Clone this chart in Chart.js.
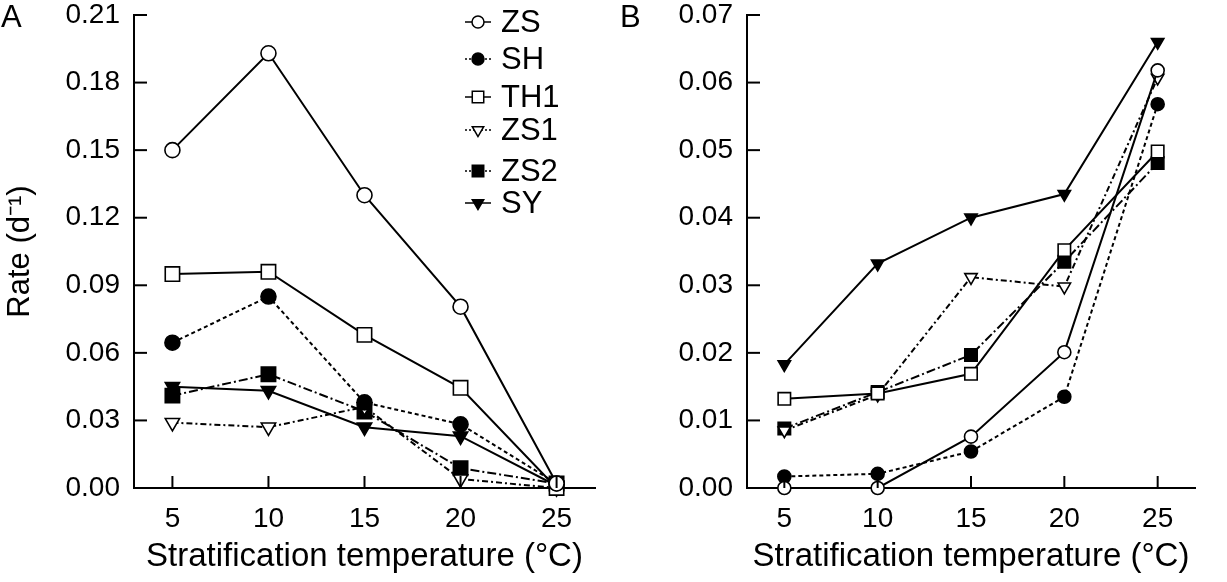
<!DOCTYPE html>
<html>
<head>
<meta charset="utf-8">
<script src="https://cdn.jsdelivr.net/npm/chart.js@4.4.0/dist/chart.umd.min.js"></script>
<style>
  body { margin: 0; background: #fff; }
  #wrap { position: relative; width: 1227px; height: 582px; }
  .panel { position: absolute; top: 0; height: 582px; }
  .tag { position: absolute; top: -1px; font: 31px "Liberation Sans", Arial, sans-serif; color: #000; }
</style>
</head>
<body>
<div id="wrap">
  <div class="panel" style="left:0;width:612px"><canvas id="chartA"></canvas></div>
  <div class="panel" style="left:612px;width:615px"><canvas id="chartB"></canvas></div>
  <div class="tag" style="left:1px">A</div>
  <div class="tag" style="left:620px">B</div>
</div>
<script>
// Data
const temps = [5, 10, 15, 20, 25];
const seriesNames = ['ZS', 'SH', 'TH1', 'ZS1', 'ZS2', 'SY'];

const aZS  = [0.150, 0.193, 0.130, 0.0805, 0.002];
const aSH  = [0.0645, 0.085, 0.038, 0.0283, 0.002];
const aTH1 = [0.095, 0.096, 0.068, 0.0445, 0.0];
const aZS1 = [0.029, 0.027, 0.036, 0.004, 0.0];
const aZS2 = [0.041, 0.0505, 0.034, 0.0088, 0.002];
const aSY  = [0.045, 0.0432, 0.027, 0.023, 0.001];

const bZS  = [0.0, 0.0, 0.0076, 0.0201, 0.0618];
const bSH  = [0.0017, 0.0021, 0.0054, 0.0135, 0.0568];
const bTH1 = [0.0132, 0.014, 0.0169, 0.0352, 0.0498];
const bZS1 = [0.0085, 0.0138, 0.0312, 0.0298, 0.0607];
const bZS2 = [0.0088, 0.0142, 0.0197, 0.0335, 0.0481];
const bSY  = [0.0183, 0.0332, 0.0400, 0.0435, 0.066];

const yTicksA = [0, 0.03, 0.06, 0.09, 0.12, 0.15, 0.18, 0.21];
const yTicksB = [0, 0.01, 0.02, 0.03, 0.04, 0.05, 0.06, 0.07];

const FONT = '"Liberation Sans", Arial, sans-serif';

// marker / line style per series
const styles = {
  ZS:  { pointStyle: 'circle',   fill: '#fff', dash: [],           rot: 0,   k: 1 },
  SH:  { pointStyle: 'circle',   fill: '#000', dash: [4, 3],       rot: 0,   k: 1 },
  TH1: { pointStyle: 'rect',     fill: '#fff', dash: [],           rot: 0,   k: 1.35 },
  ZS1: { pointStyle: 'triangle', fill: '#fff', dash: [6, 3, 2, 3], rot: 180, k: 1.1 },
  ZS2: { pointStyle: 'rect',     fill: '#000', dash: [9, 3, 2, 3], rot: 0,   k: 1.35 },
  SY:  { pointStyle: 'triangle', fill: '#000', dash: [],           rot: 180, k: 1.1 }
};

function makeDatasets(values, radius) {
  return seriesNames.map((name, i) => {
    const s = styles[name];
    return {
      label: name,
      data: temps.map((t, j) => ({ x: t, y: values[i][j] })),
      borderColor: '#000',
      borderWidth: 2,
      borderDash: s.dash,
      backgroundColor: s.fill,
      pointStyle: s.pointStyle,
      pointRotation: s.rot,
      pointRadius: radius * s.k,
      pointBorderWidth: 1.6,
      pointBorderColor: '#000',
      pointBackgroundColor: s.fill,
      clip: false,
      tension: 0
    };
  });
}

// ticks pointing into the plot area
const innerTicks = {
  id: 'innerTicks',
  afterDraw(chart) {
    const c = chart.ctx;
    const area = chart.chartArea;
    c.save();
    c.strokeStyle = '#000';
    c.lineWidth = 2;
    chart.scales.y.ticks.forEach(t => {
      const y = chart.scales.y.getPixelForValue(t.value);
      c.beginPath(); c.moveTo(area.left, y); c.lineTo(area.left + 13, y); c.stroke();
    });
    chart.scales.x.ticks.forEach(t => {
      const x = chart.scales.x.getPixelForValue(t.value);
      c.beginPath(); c.moveTo(x, area.bottom); c.lineTo(x, area.bottom - 12); c.stroke();
    });
    c.restore();
  }
};

// legend drawn inside panel A
const insideLegend = {
  id: 'insideLegend',
  afterDatasetsDraw(chart, args, opts) {
    if (!opts.show) return;
    const c = chart.ctx;
    const rows = [22, 59, 97, 130, 171, 203];
    c.save();
    chart.data.datasets.forEach((ds, i) => {
      const y = rows[i];
      const cx = opts.x;
      c.strokeStyle = '#000';
      c.lineWidth = 1.5;
      c.setLineDash(ds.borderDash.length ? [2, 2] : []);
      c.beginPath(); c.moveTo(cx - 13, y); c.lineTo(cx + 13, y); c.stroke();
      c.setLineDash([]);
      c.fillStyle = ds.pointBackgroundColor;
      c.strokeStyle = '#000';
      c.lineWidth = 1.5;
      Chart.helpers.drawPoint(c, {
        pointStyle: ds.pointStyle,
        rotation: ds.pointRotation,
        radius: 6 * styles[ds.label].k,
        borderWidth: 1.5
      }, cx, y);
      c.fillStyle = '#000';
      c.font = '31px ' + FONT;
      c.textBaseline = 'middle';
      c.textAlign = 'left';
      c.fillText(ds.label, cx + 23, y + 1);
    });
    c.restore();
  }
};

function makeChart(id, values, yTicks, yMax, opt) {
  return new Chart(document.getElementById(id), {
    type: 'line',
    data: { datasets: makeDatasets(values, opt.radius) },
    options: {
      responsive: true,
      maintainAspectRatio: false,
      animation: false,
      layout: { padding: { top: 15, right: opt.padRight, bottom: 0, left: 0 } },
      plugins: {
        legend: { display: false },
        tooltip: { enabled: false },
        insideLegend: { show: opt.legend, x: 478 }
      },
      scales: {
        x: {
          type: 'linear',
          min: 3,
          max: 27,
          afterBuildTicks: s => { s.ticks = temps.map(v => ({ value: v })); },
          afterFit: s => { s.height = 94; s.paddingLeft = 0; s.paddingRight = 0; },
          grid: { display: false, drawTicks: false },
          border: { display: true, color: '#000', width: 2 },
          ticks: { color: '#000', font: { size: 28, family: FONT }, padding: 14 },
          title: {
            display: true,
            text: 'Stratification temperature (\u00B0C)',
            color: '#000',
            font: { size: 33, family: FONT },
            padding: { top: 4, bottom: 5 }
          }
        },
        y: {
          min: 0,
          max: yMax,
          afterBuildTicks: s => { s.ticks = yTicks.map(v => ({ value: v })); },
          afterFit: s => { s.width = opt.yWidth; s.paddingTop = 0; s.paddingBottom = 0; },
          grid: { display: false, drawTicks: false },
          border: { display: true, color: '#000', width: 2 },
          ticks: {
            color: '#000',
            font: { size: 28, family: FONT },
            padding: 14,
            callback: v => v.toFixed(2)
          },
          title: {
            display: opt.yTitle,
            text: 'Rate (d\u207B\u00B9)',
            color: '#000',
            font: { size: 31, family: FONT },
            padding: { top: 2, bottom: 0 }
          }
        }
      }
    },
    plugins: [innerTicks, insideLegend]
  });
}

makeChart('chartA', [aZS, aSH, aTH1, aZS1, aZS2, aSY], yTicksA, 0.21,
  { radius: 7.5, padRight: 17, yWidth: 134, yTitle: true, legend: true });
makeChart('chartB', [bZS, bSH, bTH1, bZS1, bZS2, bSY], yTicksB, 0.07,
  { radius: 6.5, padRight: 32, yWidth: 135, yTitle: false, legend: false });
</script>
</body>
</html>
